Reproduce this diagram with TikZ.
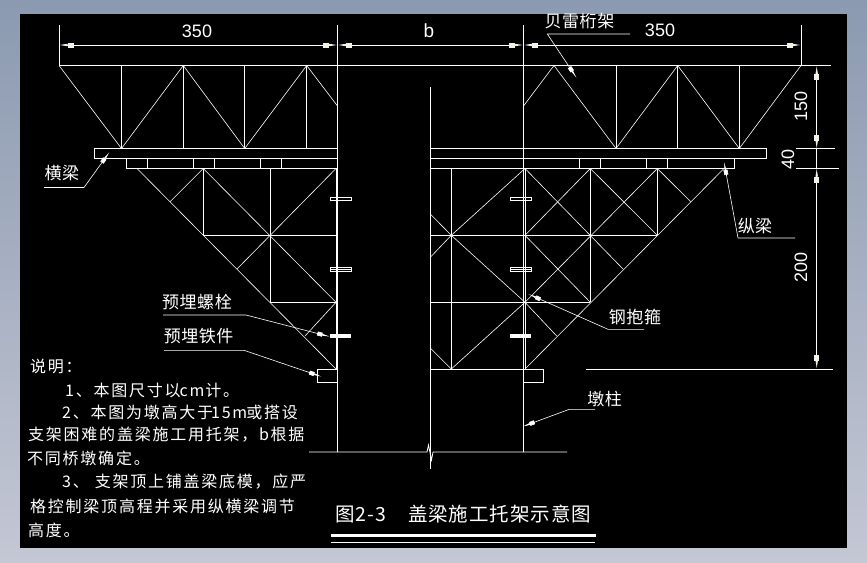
\documentclass[tikz,border=0pt]{standalone}
\usepackage{fontspec}
\usetikzlibrary{arrows.meta}
\newfontfamily\noteF[LetterSpace=11]{Noto Sans CJK SC}
\newfontfamily\labF[LetterSpace=3]{Noto Sans CJK SC}
\newfontfamily\titleF[LetterSpace=5]{Noto Sans CJK SC}
\setmainfont{Liberation Sans}
\definecolor{bgtop}{HTML}{8B9AB0}
\definecolor{bgbot}{HTML}{C4C7D4}
\definecolor{tipc}{HTML}{F2F2E6}
\tikzset{
  x=1pt,y=-1pt,
  ln/.style={draw=white,line width=0.8pt},
  thin ln/.style={draw=white,line width=0.6pt},
  dimarrow/.tip={Rectangle[length=6pt,width=4.6pt,sep=0pt,color=tipc,fill=tipc]Triangle[length=8pt,width=2.2pt,color=tipc,fill=tipc]},
  leadarrow/.tip={Rectangle[length=5pt,width=4pt,sep=0pt,color=white,fill=white]Triangle[length=8pt,width=1.6pt,color=white,fill=white]},
  notetext/.style={font=\noteF\fontsize{16}{16}\selectfont,text=white,anchor=west,inner sep=0pt},
  labeltext/.style={font=\labF\fontsize{17}{17}\selectfont,text=white,anchor=center,inner sep=0pt},
  titletext/.style={font=\titleF\fontsize{19.5}{20}\selectfont,text=white,anchor=west,inner sep=0pt},
  dimtext/.style={font=\fontsize{18}{18}\selectfont,text=white,anchor=center,inner sep=0pt},
}
\begin{document}
\begin{tikzpicture}
\useasboundingbox (0,0) rectangle (867,562);
\shade[top color=bgtop,bottom color=bgbot] (0,0) rectangle (867,562);
\fill[black] (20,14) rectangle (847,548);

% dimension lines and extension lines
\draw[ln] (59,25) -- (59,65.5);
\draw[ln] (801,25) -- (801,65.5);
\draw[ln] (337.5,25) -- (337.5,452);
\draw[ln] (523.5,25) -- (523.5,452);
\draw[ln,dimarrow-dimarrow] (59.5,45) -- (337,45);
\draw[ln,dimarrow-dimarrow] (338,45) -- (523,45);
\draw[ln,dimarrow-dimarrow] (524,45) -- (800.5,45);
\draw[ln] (59,65.5) -- (831,65.5);
\draw[ln,dimarrow-dimarrow] (816.7,66) -- (816.7,148.5);
\draw[ln] (816.7,148.5) -- (816.7,168.5);
\draw[ln,dimarrow-dimarrow] (816.7,168.5) -- (816.7,368.5);
\draw[ln] (796,148.5) -- (835,148.5);
\draw[ln] (796,168.5) -- (839,168.5);
\draw[ln] (586,369) -- (833,369);

% pier
\draw[ln] (430.3,87) -- (430.3,469);
\draw[ln] (309,452) -- (427,452) -- (428.5,445) -- (431.5,460) -- (433,452) -- (567,452);

% upper truss left
\draw[thin ln] (59,65.5) -- (121.5,148.5) -- (183.3,65.5) -- (244.7,148.5) -- (306.7,65.5) -- (337.5,106);
\draw[ln] (121.5,65.5) -- (121.5,148.5) (183.3,65.5) -- (183.3,148.5) (244.7,65.5) -- (244.7,148.5) (306.7,65.5) -- (306.7,148.5);
% upper truss right
\draw[thin ln] (523.5,106) -- (554,65.5) -- (616,148.5) -- (677.7,65.5) -- (739.3,148.5) -- (801,65.5);
\draw[ln] (616,65.5) -- (616,148.5) (677.7,65.5) -- (677.7,148.5) (739.3,148.5) -- (739.3,65.5);

% cross beam and stringers
\draw[ln] (337.5,148.5) -- (94.5,148.5) -- (94.5,158.5) -- (337.5,158.5);
\draw[ln] (430.3,148.5) -- (766.7,148.5) -- (766.7,158.5) -- (430.3,158.5);
\draw[ln] (126.5,158.5) -- (126.5,168.5) -- (337.5,168.5);
\draw[ln] (430.3,168.5) -- (734.3,168.5) -- (734.3,158.5);
\foreach \t in {147.5,193.5,214.5,260.5,281.5,579.3,600.3,646.3,667.3}
  \draw[ln] (\t,158.5) -- (\t,168.5);

% lower bracket left
\draw[ln] (336,168.5) -- (336,369);
\draw[ln] (203.3,168.5) -- (203.3,235.3) -- (337.5,235.3);
\draw[ln] (270.3,168.5) -- (270.3,302.3) -- (337.5,302.3);
\draw[thin ln] (137,168.5) -- (336,369);
\draw[thin ln] (203.3,168.5) -- (170,201.7);
\draw[thin ln] (203.3,168.5) -- (336,302.3);
\draw[thin ln] (336,168.5) -- (237,269);
\draw[thin ln] (336,302.3) -- (305,336);
\draw[ln] (337.5,369) -- (317,369) -- (317,382.5) -- (337.5,382.5);

% lower bracket right
\draw[ln] (525,168.5) -- (525,369);
\draw[ln] (451.3,168.5) -- (451.3,369);
\draw[ln] (590.3,168.5) -- (590.3,302.3);
\draw[ln] (657.3,168.5) -- (657.3,235.3);
\draw[ln] (430.3,235.3) -- (657.3,235.3);
\draw[ln] (430.3,302.3) -- (590.3,302.3);
\draw[ln] (430.3,369) -- (543.7,369) -- (543.7,382.5) -- (523.5,382.5);
\draw[thin ln] (724,168.5) -- (525,369);
\draw[thin ln] (525,168.5) -- (451.3,235.3) -- (430.3,257.3);
\draw[thin ln] (430.3,214) -- (451.3,235.3) -- (525,302.3);
\draw[thin ln] (525,302.3) -- (451.3,369) -- (430.3,348);
\draw[thin ln] (525,168.5) -- (623.3,269.3);
\draw[thin ln] (590.3,168.5) -- (525,235.3);
\draw[thin ln] (590.3,168.5) -- (657.3,235.3);
\draw[thin ln] (657.3,168.5) -- (525,302.3);
\draw[thin ln] (657.3,168.5) -- (690.7,201.7);
\draw[thin ln] (525,235.3) -- (590.3,302.3);
\draw[thin ln] (525,302.3) -- (556.7,336);

% bolts
\foreach \a/\b in {330/351,510/531}{
  \draw[ln,line width=1pt] (\a,197.5) rectangle (\b,200.5);
  \draw[ln,line width=0.7pt] (\a,267.5) rectangle (\b,271.5);
  \draw[ln,line width=0.7pt] (\a,269.5) -- (\b,269.5);
  \fill[white] (\a,334) rectangle (\b,338);
}

% labels
\node[dimtext] (d1) at (197,31.5) {350};
\node[dimtext,font=\fontsize{19}{19}\selectfont] (db) at (429,31) {b};
\node[dimtext] (d2) at (660,30.5) {350};
\node[dimtext,rotate=90] (d3) at (801,106) {150};
\node[dimtext,rotate=90] (d4) at (788,159) {40};
\node[dimtext,rotate=90] (d5) at (801,267) {200};

\node[labeltext] (lbl1) at (579.5,20.7) {贝雷桁架};
\node[labeltext] (lbl2) at (62,173) {横梁};
\node[labeltext] (lbl3) at (755,226) {纵梁};
\node[labeltext] (lbl4) at (197,301.7) {预埋螺栓};
\node[labeltext] (lbl5) at (198.7,336) {预埋铁件};
\node[labeltext] (lbl6) at (635,316.7) {钢抱箍};
\node[labeltext] (lbl7) at (604.7,399.3) {墩柱};

% leaders
\coordinate (a1) at (630,34);  \coordinate (b1) at (547.3,34);  \coordinate (c1) at (576.7,78);
\coordinate (a2) at (44,187.5); \coordinate (b2) at (84,187.5); \coordinate (c2) at (109.5,152);
\coordinate (a3) at (795,238); \coordinate (b3) at (738,238); \coordinate (c3) at (724,162);
\coordinate (a4) at (163,315); \coordinate (b4) at (246,315); \coordinate (c4) at (330,336.7);
\coordinate (a5) at (164,350.3); \coordinate (b5) at (244,350.3); \coordinate (c5) at (321.7,376.7);
\coordinate (a6) at (644,329.3); \coordinate (b6) at (608,329.3); \coordinate (c6) at (528.3,294);
\coordinate (a7) at (595,409.3); \coordinate (b7) at (569.3,409.3); \coordinate (c7) at (522.3,426.7);
\foreach \i in {1,...,7}
  \draw[thin ln,-leadarrow] (a\i) -- (b\i) -- (c\i);

% notes
\node[notetext] (n0) at (30,366) {说明：};
\node[notetext] (n1) at (65,390) {1、本图尺寸以\hspace{-1pt}cm\hspace{1pt}计。};
\node[notetext] (n2) at (62,412) {2、本图为墩高大于\hspace{-2pt}15m\hspace{-1pt}或搭设};
\node[notetext] (n3) at (28,435) {支架困难的盖梁施工用托架，b根据};
\node[notetext] (n4) at (27,458) {不同桥墩确定。};
\node[notetext] (n5) at (62,482) {3、\hspace{6pt}支架顶上铺盖梁底模，应严};
\node[notetext] (n6) at (30,506) {格控制梁顶高程并采用纵横梁调节};
\node[notetext] (n7) at (28,530) {高度。};

% title
\node[titletext] (title) at (335,514) {图2-3\hspace{22pt}盖梁施工托架示意图};
\draw[white,line width=2.6pt] (331,535.3) -- (596,535.3);
\draw[ln] (331,542.3) -- (595,542.3);
\end{tikzpicture}
\end{document}
